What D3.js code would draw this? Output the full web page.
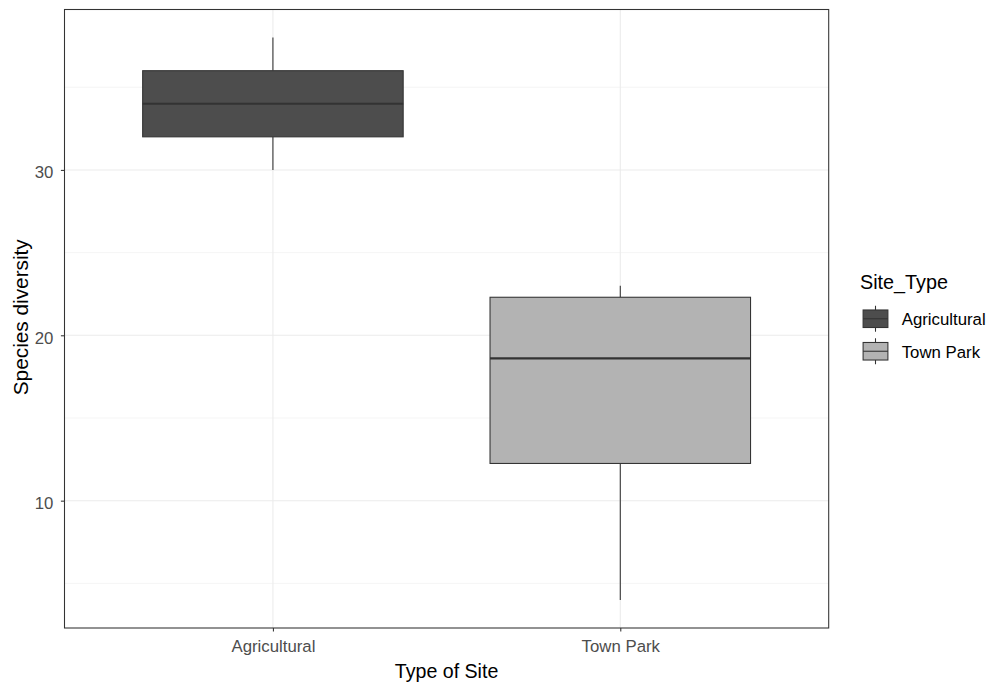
<!DOCTYPE html>
<html>
<head>
<meta charset="utf-8">
<script src="https://cdn.jsdelivr.net/npm/d3@7"></script>
<style>
  html, body { margin: 0; padding: 0; background: #ffffff; }
  svg { display: block; font-family: "Liberation Sans", Arial, sans-serif; }
</style>
</head>
<body>
<svg id="chart" width="992" height="684"></svg>
<script>
// Box plot summaries of species diversity by site type
const categories  = ["Agricultural", "Town Park"];
const whiskerLow  = [30, 4];
const lowerQ      = [32, 12.25];
const medians     = [34, 18.6];
const upperQ      = [36, 22.3];
const whiskerHigh = [38, 23];
const fills       = ["#4d4d4d", "#b3b3b3"];
const yTicks      = [10, 20, 30];
const yMinor      = [5, 15, 25, 35];

const svg = d3.select("#chart");
const panel = { left: 64.5, right: 828.7, top: 9.5, bottom: 628 };
const outline = "#333333";

// y scale with 5% expansion either side of the data range
const lo = d3.min(whiskerLow), hi = d3.max(whiskerHigh);
const pad = (hi - lo) * 0.05;
const y = d3.scaleLinear().domain([lo - pad, hi + pad]).range([panel.bottom, panel.top]);

// discrete x positions with 0.6 step expansion at each end
const x = d3.scalePoint().domain(categories).range([panel.left, panel.right]).padding(0.6);
const boxW = x.step() * 0.75;

const data = categories.map((c, i) => ({
  cat: c, ymin: whiskerLow[i], lower: lowerQ[i], middle: medians[i],
  upper: upperQ[i], ymax: whiskerHigh[i], fill: fills[i]
}));

// panel grid
const grid = svg.append("g");
grid.selectAll("line.minor").data(yMinor).join("line")
  .attr("x1", panel.left).attr("x2", panel.right)
  .attr("y1", d => y(d)).attr("y2", d => y(d))
  .attr("stroke", "#ebebeb").attr("stroke-width", 0.55);
grid.selectAll("line.major").data(yTicks).join("line")
  .attr("x1", panel.left).attr("x2", panel.right)
  .attr("y1", d => y(d)).attr("y2", d => y(d))
  .attr("stroke", "#ebebeb").attr("stroke-width", 1.07);
grid.selectAll("line.vx").data(categories).join("line")
  .attr("x1", d => x(d)).attr("x2", d => x(d))
  .attr("y1", panel.top).attr("y2", panel.bottom)
  .attr("stroke", "#ebebeb").attr("stroke-width", 1.07);

// boxes with whiskers
const boxes = svg.append("g").selectAll("g").data(data).join("g");
boxes.append("line")
  .attr("x1", d => x(d.cat)).attr("x2", d => x(d.cat))
  .attr("y1", d => y(d.ymax)).attr("y2", d => y(d.upper))
  .attr("stroke", outline).attr("stroke-width", 1.07);
boxes.append("line")
  .attr("x1", d => x(d.cat)).attr("x2", d => x(d.cat))
  .attr("y1", d => y(d.lower)).attr("y2", d => y(d.ymin))
  .attr("stroke", outline).attr("stroke-width", 1.07);
boxes.append("rect")
  .attr("x", d => x(d.cat) - boxW / 2).attr("width", boxW)
  .attr("y", d => y(d.upper)).attr("height", d => y(d.lower) - y(d.upper))
  .attr("fill", d => d.fill).attr("stroke", outline).attr("stroke-width", 1.07);
boxes.append("line")
  .attr("x1", d => x(d.cat) - boxW / 2).attr("x2", d => x(d.cat) + boxW / 2)
  .attr("y1", d => y(d.middle)).attr("y2", d => y(d.middle))
  .attr("stroke", outline).attr("stroke-width", 2.13);

// panel border
svg.append("rect")
  .attr("x", panel.left).attr("y", panel.top)
  .attr("width", panel.right - panel.left).attr("height", panel.bottom - panel.top)
  .attr("fill", "none").attr("stroke", outline).attr("stroke-width", 1.07);

// axes
const yAxis = svg.append("g").attr("transform", `translate(${panel.left},0)`)
  .call(d3.axisLeft(y).tickValues(yTicks).tickSize(3.6).tickPadding(7.6));
const xAxis = svg.append("g").attr("transform", `translate(0,${panel.bottom})`)
  .call(d3.axisBottom(x).tickSize(3.6).tickPadding(8.9));
[yAxis, xAxis].forEach(a => {
  a.select(".domain").remove();
  a.selectAll(".tick line").attr("stroke", outline).attr("stroke-width", 1.07);
  a.selectAll(".tick text").attr("fill", "#4d4d4d")
    .style("font-size", "16.8px").style("font-family", "'Liberation Sans', Arial, sans-serif");
});
yAxis.selectAll(".tick text").attr("dy", "0.46em");
xAxis.selectAll(".tick text").attr("dy", "0.71em");

// axis titles
svg.append("text")
  .attr("x", (panel.left + panel.right) / 2).attr("y", 677.7)
  .attr("text-anchor", "middle").attr("fill", "#000")
  .style("font-size", "19.6px").text("Type of Site");
svg.append("text")
  .attr("transform", `translate(28.2,${(panel.top + panel.bottom) / 2 - 1.5}) rotate(-90)`)
  .attr("text-anchor", "middle").attr("fill", "#000")
  .style("font-size", "20.8px").text("Species diversity");

// legend
const legend = svg.append("g");
legend.append("text").attr("x", 860).attr("y", 289)
  .attr("fill", "#000").style("font-size", "19.8px").text("Site_Type");
const keyH = 32.5, keyW = 31, keyX = 860, keyY0 = 302.5;
const keys = legend.selectAll("g.key").data(data).join("g")
  .attr("transform", (d, i) => `translate(${keyX},${keyY0 + i * keyH})`);
keys.append("line")
  .attr("x1", keyW / 2).attr("x2", keyW / 2).attr("y1", keyH * 0.1).attr("y2", keyH * 0.9)
  .attr("stroke", outline).attr("stroke-width", 1.07);
keys.append("rect")
  .attr("x", keyW * 0.1).attr("width", keyW * 0.8)
  .attr("y", keyH * 0.23).attr("height", keyH * 0.54)
  .attr("fill", d => d.fill).attr("stroke", outline).attr("stroke-width", 1.07);
keys.append("line")
  .attr("x1", keyW * 0.1).attr("x2", keyW * 0.9).attr("y1", keyH / 2).attr("y2", keyH / 2)
  .attr("stroke", outline).attr("stroke-width", 1.07);
keys.append("text")
  .attr("x", 41.7).attr("y", keyH / 2).attr("dy", "0.4em")
  .attr("fill", "#000").style("font-size", "16.8px").text(d => d.cat);
</script>
</body>
</html>
